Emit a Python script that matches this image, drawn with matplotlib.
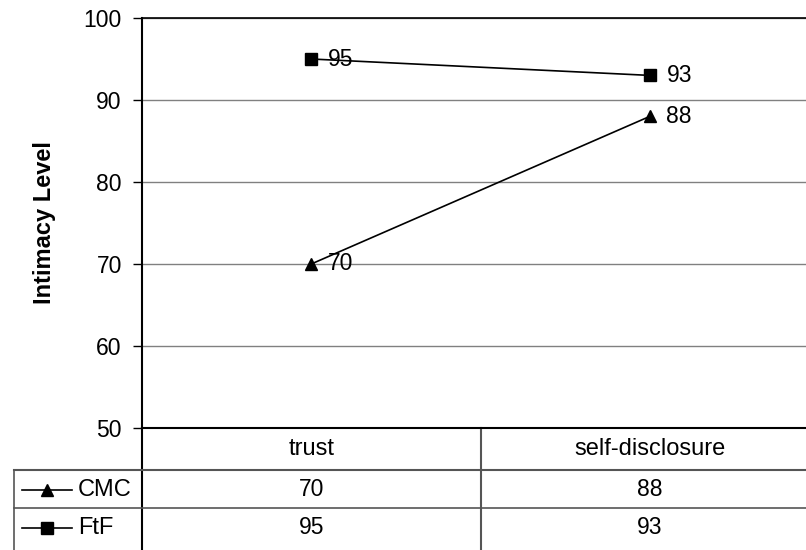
import matplotlib.pyplot as plt
from matplotlib.lines import Line2D
from matplotlib.transforms import blended_transform_factory

plt.rcParams['font.family'] = ['Liberation Sans', 'DejaVu Sans']

# dados
categorias = ['trust', 'self-disclosure']
cmc = [70, 88]
ftf = [95, 93]
series = [('CMC', cmc, '^'), ('FtF', ftf, 's')]

W, H = 806, 550
fig = plt.figure(figsize=(W / 100, H / 100), dpi=100)

# eixo: esquerda 142px, topo 18px (100), base 428px (50); passa da borda direita
x0, x1, ytop, ybot = 142, 819, 18, 428
ax = fig.add_axes([x0 / W, (H - ybot) / H, (x1 - x0) / W, (ybot - ytop) / H])
ax.set_xlim(-0.5, 1.5)
ax.set_ylim(50, 100)
ax.set_yticks(range(50, 101, 10))
ax.set_xticks([])
ax.tick_params(axis='y', labelsize=16.5, length=6.5, width=1, direction='out', pad=8)
ax.yaxis.grid(True, color='#808080', lw=1)
ax.set_axisbelow(True)
ax.spines['right'].set_visible(False)
ax.spines['left'].set_linewidth(1.5)
ax.spines['bottom'].set_linewidth(1.5)
ax.spines['top'].set_linewidth(1.2)
ax.set_ylabel('Intimacy Level', fontsize=17, fontweight='bold', labelpad=20)

xs = range(len(categorias))
for nome, vals, mk in series:
    ax.plot(xs, vals, color='black', lw=1.2, marker=mk, markersize=8, clip_on=False)
    for x, v in zip(xs, vals):
        ax.annotate(str(v), (x, v), xytext=(12, 0), textcoords='offset points',
                    va='center', ha='left', fontsize=16.5)

# tabela de dados embaixo
tr = blended_transform_factory(ax.transData, fig.transFigure)
fy = lambda py: (H - py) / H
fx = lambda px: px / W

for i, c in enumerate(categorias):
    ax.text(i, fy(449), c, transform=tr, ha='center', va='center', fontsize=17)

linhas_y = [490, 528]
for (nome, vals, mk), py in zip(series, linhas_y):
    for i, v in enumerate(vals):
        ax.text(i, fy(py), str(v), transform=tr, ha='center', va='center', fontsize=16.5)
    fig.add_artist(Line2D([fx(22), fx(72)], [fy(py), fy(py)], color='black', lw=1.2))
    fig.add_artist(Line2D([fx(47)], [fy(py)], color='black', marker=mk, markersize=8))
    fig.text(fx(78), fy(py), nome, ha='left', va='center', fontsize=17)

cinza = '#555555'
fig.add_artist(Line2D([fx(x0), fx(x0)], [fy(428), 0], color='black', lw=1.5))
ax.plot([0.5, 0.5], [fy(428), 0], transform=tr, color=cinza, lw=1.5, clip_on=False)
fig.add_artist(Line2D([fx(14), fx(14)], [fy(470), 0], color=cinza, lw=1.2))
fig.add_artist(Line2D([fx(14), 1], [fy(470), fy(470)], color=cinza, lw=1.5))
fig.add_artist(Line2D([fx(14), 1], [fy(508), fy(508)], color=cinza, lw=1.2))

fig.savefig('out.png', dpi=100)
